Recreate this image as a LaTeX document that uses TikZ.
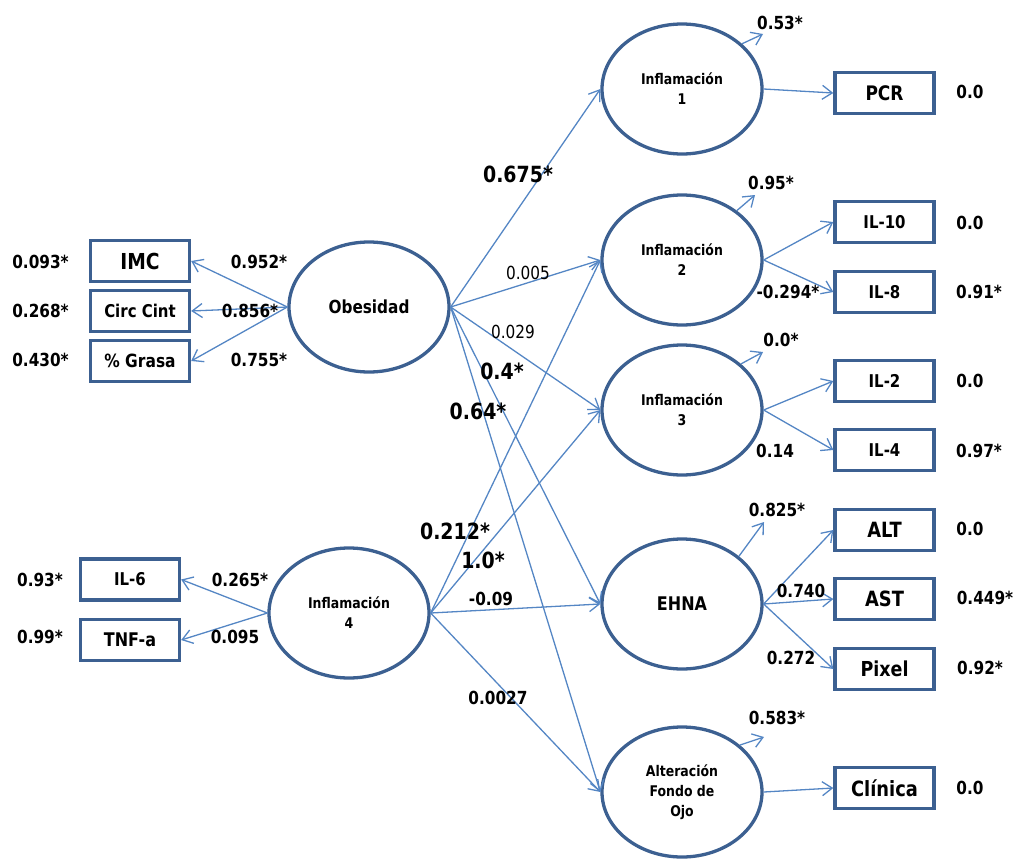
\documentclass[tikz,border=0pt]{standalone}
\usepackage{fontspec}
\setmainfont{DejaVu Sans}[FakeStretch=0.85]
\usetikzlibrary{shapes.geometric,arrows.meta}
\definecolor{nodeblue}{RGB}{60,96,145}
\definecolor{lineblue}{RGB}{84,134,196}
\tikzset{
  lat/.style={ellipse, draw=nodeblue, line width=3.3pt, minimum width=160pt, minimum height=130pt, inner sep=0pt, align=center, font=\bfseries\fontsize{14.7}{20}\selectfont},
  obsbox/.style={rectangle, draw=nodeblue, line width=3.3pt, minimum width=99pt, minimum height=41pt, inner sep=0pt},
  arr/.style={draw=lineblue, line width=1.3pt, -{Straight Barb[length=10pt,width=14pt]}},
  num/.style={inner sep=0pt, font=\bfseries\fontsize{18}{20}\selectfont},
  numr/.style={inner sep=0pt, font=\fontsize{18}{20}\selectfont},
  big/.style={inner sep=0pt, font=\bfseries\fontsize{22.3}{24}\selectfont}
}
\begin{document}
\begin{tikzpicture}[x=1pt,y=-1pt]
\useasboundingbox (0,0) rectangle (1016,859);
% latent variables
\node[lat] (ob) at (369,307) {\fontsize{18}{20}\selectfont Obesidad};
\node[lat] (i1) at (682,89) {Inflamación\\1};
\node[lat] (i2) at (682,260) {Inflamación\\2};
\node[lat] (i3) at (682,410) {Inflamación\\3};
\node[lat] (eh) at (682,604) {\fontsize{18.8}{20}\selectfont EHNA};
\node[lat] (al) at (682,792) {Alteración\\Fondo de\\Ojo};
\node[lat] (i4) at (349,613) {Inflamación\\4};
% observed variables
\node[obsbox, font=\bfseries\fontsize{20}{22}\selectfont] (pcr) at (884.5,93) {PCR};
\node[obsbox, font=\bfseries\fontsize{17.6}{20}\selectfont] (il10) at (884.5,222) {IL-10};
\node[obsbox, font=\bfseries\fontsize{17.6}{20}\selectfont] (il8) at (884.5,292) {IL-8};
\node[obsbox, font=\bfseries\fontsize{17.6}{20}\selectfont] (il2) at (884.5,381) {IL-2};
\node[obsbox, font=\bfseries\fontsize{17.6}{20}\selectfont] (il4) at (884.5,450) {IL-4};
\node[obsbox, font=\bfseries\fontsize{21}{23}\selectfont] (alt) at (884.5,530) {ALT};
\node[obsbox, font=\bfseries\fontsize{21}{23}\selectfont] (ast) at (884.5,599) {AST};
\node[obsbox, font=\bfseries\fontsize{20.6}{23}\selectfont] (pix) at (884.5,669) {Pixel};
\node[obsbox, font=\bfseries\fontsize{21}{23}\selectfont] (cli) at (884.5,788) {Clínica};
\node[obsbox, font=\bfseries\fontsize{22}{24}\selectfont] (imc) at (140,261) {IMC};
\node[obsbox, font=\bfseries\fontsize{17.6}{20}\selectfont] (cc) at (140,311) {Circ Cint};
\node[obsbox, font=\bfseries\fontsize{18.2}{20}\selectfont] (gr) at (140,361) {\% Grasa};
\node[obsbox, font=\bfseries\fontsize{17.6}{20}\selectfont] (il6) at (130,579.5) {IL-6};
\node[obsbox, font=\bfseries\fontsize{18.8}{20}\selectfont] (tnf) at (130,640) {TNF-a};
% residual end points
\coordinate (r1) at (763,34);
\coordinate (r2) at (755,195);
\coordinate (r3) at (763,352);
\coordinate (r4) at (764,522);
\coordinate (r5) at (764,737);
% structural paths
\draw[arr] (ob.east) -- (i1.west);
\draw[arr] (ob.east) -- (i2.west);
\draw[arr] (ob.east) -- (i3.west);
\draw[arr] (ob.east) -- (eh.west);
\draw[arr] (ob.east) -- (al.west);
\draw[arr] (i4.east) -- (i2.west);
\draw[arr] (i4.east) -- (i3.west);
\draw[arr] (i4.east) -- (eh.west);
\draw[arr] (i4.east) -- (al.west);
% measurement paths
\draw[arr] (ob.west) -- (imc.east);
\draw[arr] (ob.west) -- (cc.east);
\draw[arr] (ob.west) -- (gr.east);
\draw[arr] (i4.west) -- (il6.east);
\draw[arr] (i4.west) -- (tnf.east);
\draw[arr] (i1.east) -- (pcr.west);
\draw[arr] (i2.east) -- (il10.west);
\draw[arr] (i2.east) -- (il8.west);
\draw[arr] (i3.east) -- (il2.west);
\draw[arr] (i3.east) -- (il4.west);
\draw[arr] (eh.east) -- (alt.west);
\draw[arr] (eh.east) -- (ast.west);
\draw[arr] (eh.east) -- (pix.west);
\draw[arr] (al.east) -- (cli.west);
% residuals
\draw[arr] (i1.37) -- (r1);
\draw[arr] (i2.42) -- (r2);
\draw[arr] (i3.38) -- (r3);
\draw[arr] (eh.40) -- (r4);
\draw[arr] (al.39) -- (r5);
% left labels
\node[num] (l1) at (40.5,262) {0.093*};
\node[num] (l2) at (40.5,311) {0.268*};
\node[num] (l3) at (40.5,360) {0.430*};
\node[num] (l4) at (259,262) {0.952*};
\node[num] (l5) at (250,311) {0.856*};
\node[num] (l6) at (259,360) {0.755*};
\node[num] (l7) at (40,580) {0.93*};
\node[num] (l8) at (40,637) {0.99*};
\node[num] (l9) at (240,580) {0.265*};
\node[num] (l10) at (235,637) {0.095};
% right labels
\node[num] (m1) at (780,23) {0.53*};
\node[num] (m2) at (970,92) {0.0};
\node[num] (m3) at (771,183) {0.95*};
\node[num] (m4) at (970,223) {0.0};
\node[num] (m5) at (788,292) {-0.294*};
\node[num] (m6) at (979,292) {0.91*};
\node[num] (m7) at (781,340) {0.0*};
\node[num] (m8) at (970,381) {0.0};
\node[num] (m9) at (775,451) {0.14};
\node[num] (m10) at (979,451) {0.97*};
\node[num] (m11) at (777,510) {0.825*};
\node[num] (m12) at (970,529) {0.0};
\node[num] (m13) at (801,591) {0.740};
\node[num] (m14) at (985,598) {0.449*};
\node[num] (m15) at (791,658) {0.272};
\node[num] (m16) at (980,668) {0.92*};
\node[num] (m17) at (777,718) {0.583*};
\node[num] (m18) at (970,788) {0.0};
% middle labels
\node[big] (c1) at (518,174) {0.675*};
\node[numr] (c2) at (528,273) {0.005};
\node[numr] (c3) at (513,332) {0.029};
\node[big] (c4) at (502,371) {0.4*};
\node[big] (c5) at (478,411) {0.64*};
\node[big] (c6) at (455,531) {0.212*};
\node[big] (c7) at (483,560) {1.0*};
\node[num] (c8) at (491,599) {-0.09};
\node[num] (c9) at (498,698) {0.0027};
\end{tikzpicture}
\end{document}
